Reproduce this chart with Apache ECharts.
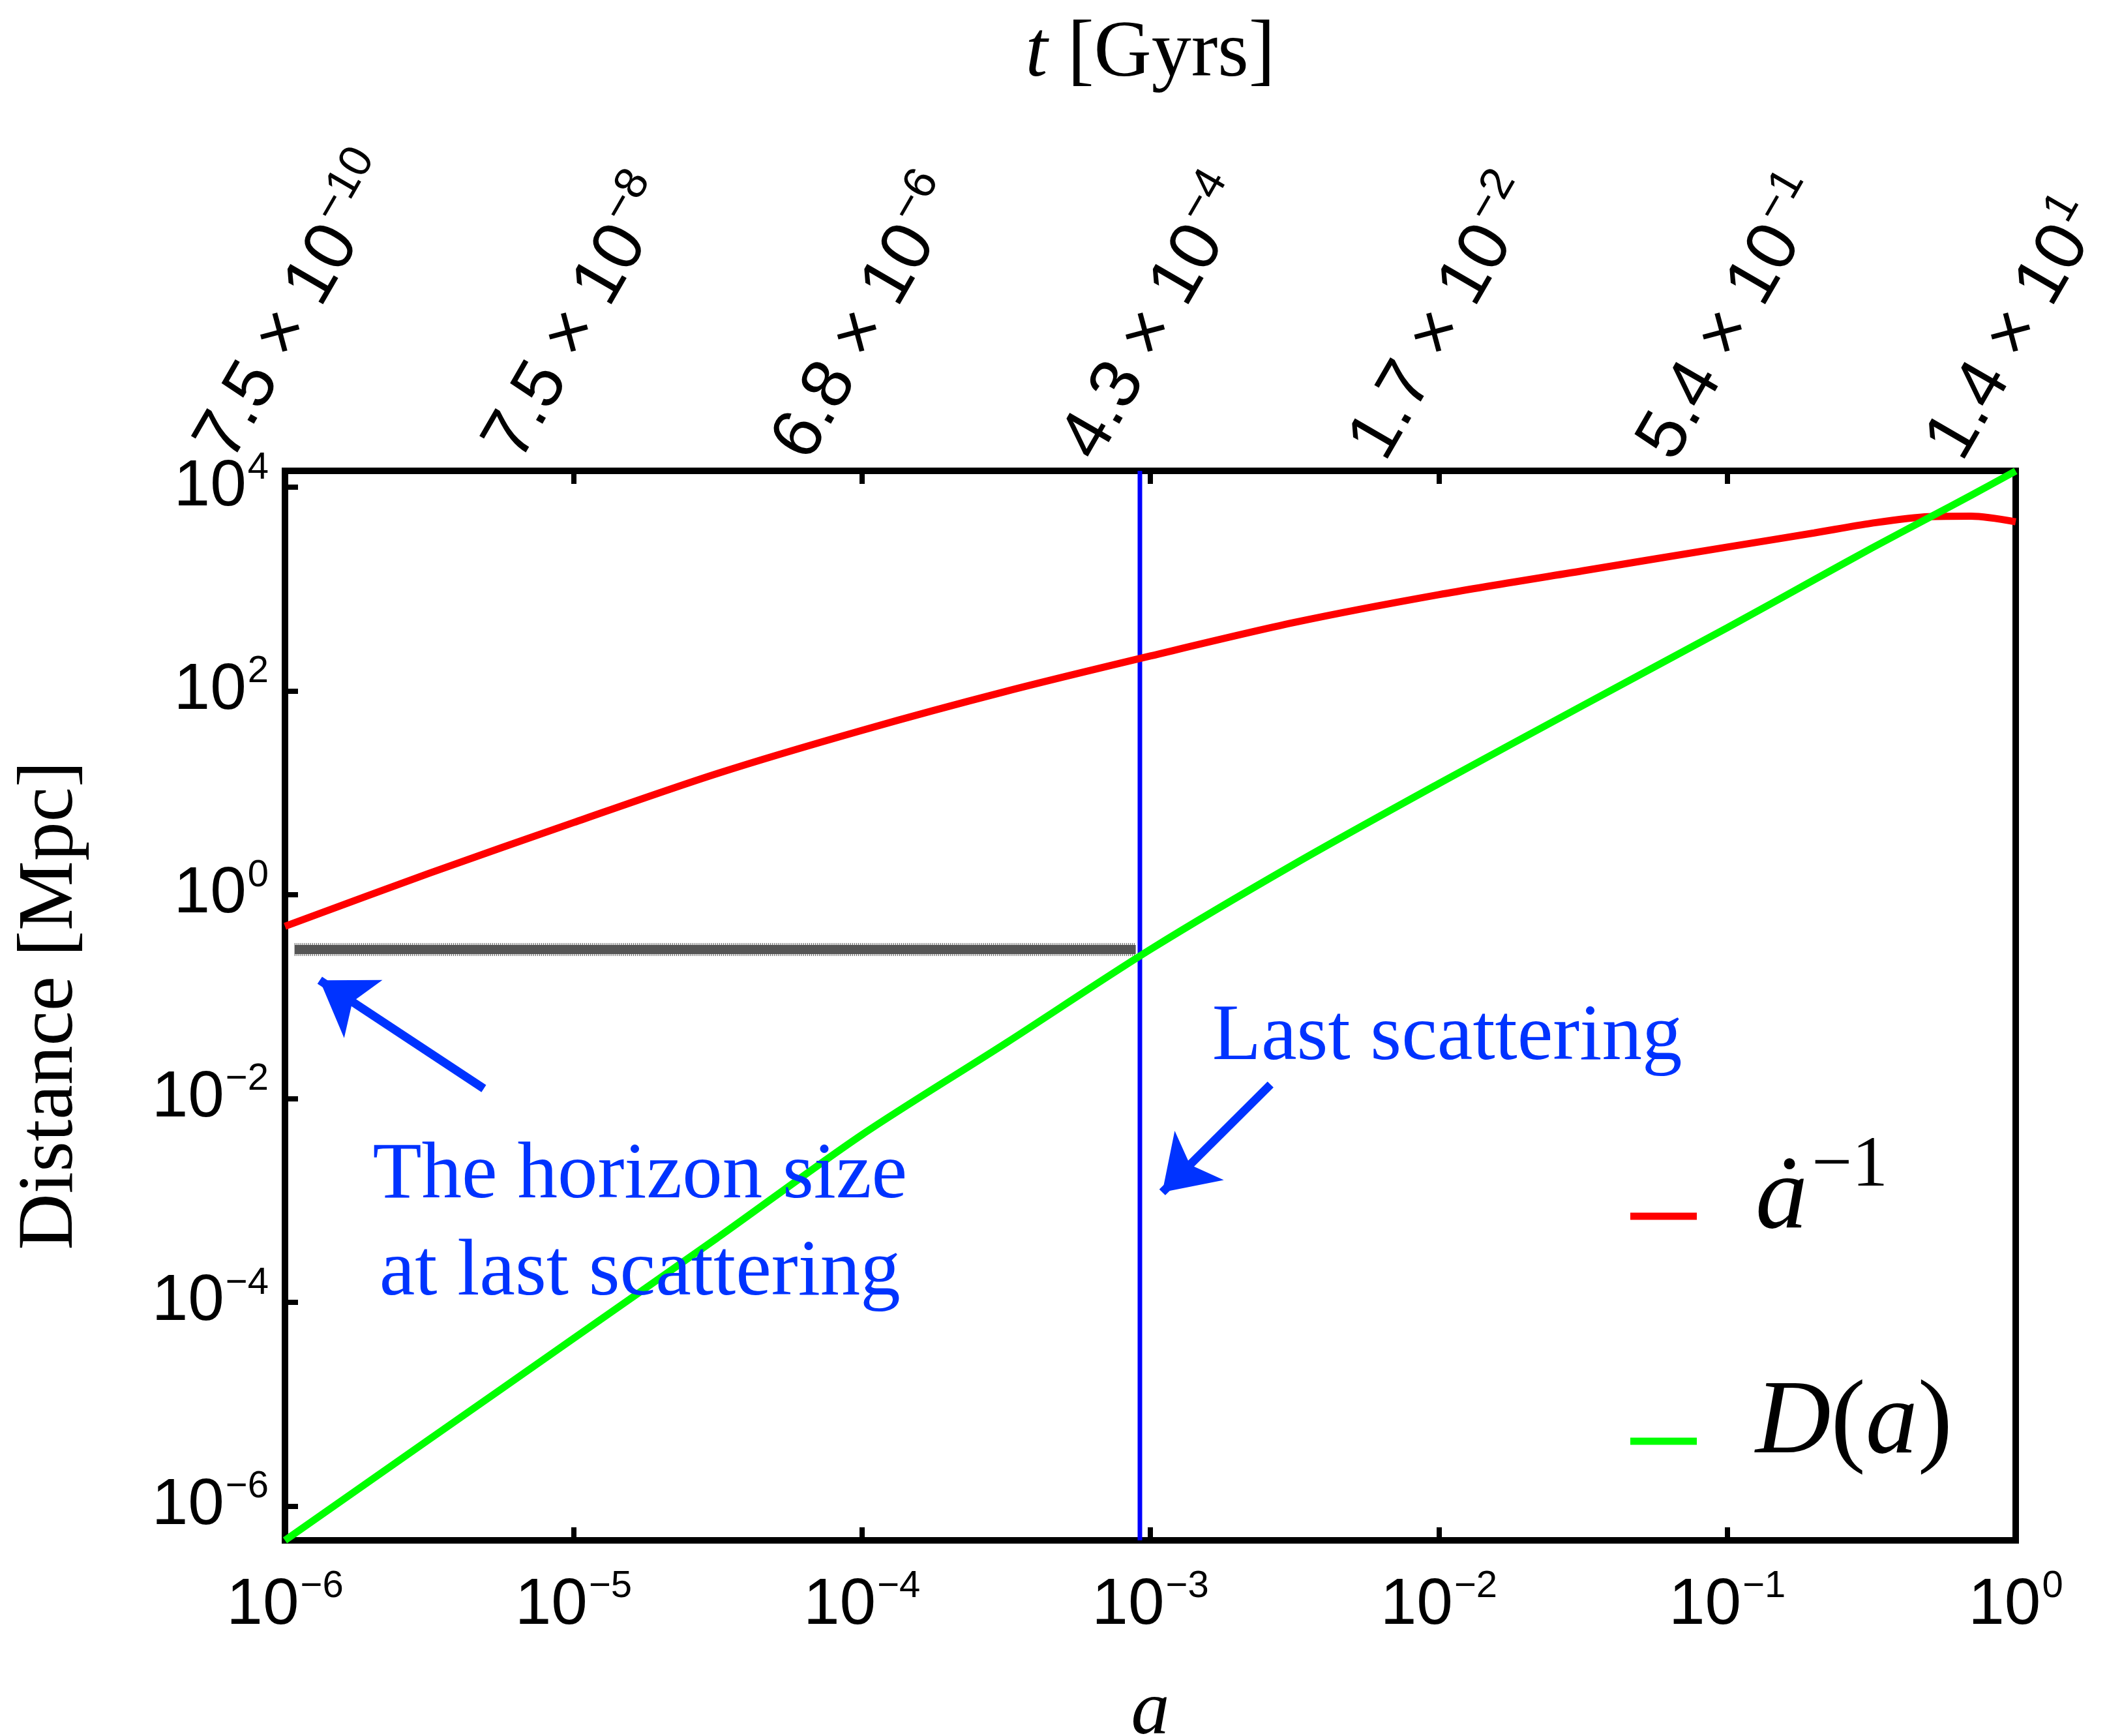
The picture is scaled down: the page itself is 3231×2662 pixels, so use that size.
<!DOCTYPE html>
<html>
<head>
<meta charset="utf-8">
<title>Horizon size</title>
<script src="https://cdn.jsdelivr.net/npm/echarts@6/dist/echarts.min.js"></script>
<style>
    * { margin: 0; padding: 0; }
    body { background: #fff; }
    #main { width: 3231px; height: 2662px; }
</style>
</head>
<body>
<div id="main"></div>
<script type="text/javascript">
// scale factor a (bottom axis)
var aVals = [1e-6, 3.16e-6, 1e-5, 3.16e-5, 1e-4, 3.16e-4, 1e-3, 3.16e-3, 1e-2, 3.16e-2, 0.1, 0.2, 0.316, 0.5, 0.7, 1];
// 1 / adot in Mpc
var adotInv = [0.49, 1.62, 5.1, 15.5, 41, 99, 220, 470, 880, 1510, 2580, 3550, 4420, 5130, 5190, 4570];
// horizon distance D(a) in Mpc
var horizonD = [4.6e-7, 4.5e-6, 4.4e-5, 4.3e-4, 4.4e-3, 0.035, 0.29, 2.0, 12.3, 72, 417, 1230, 2510, 5010, 8300, 14400];

var aLastScatter = 9.2e-4;
var lsBand = [[1.08e-6, 0.29], [8.9e-4, 0.29]];   // horizon size at last scattering
var yRange = [4.6e-7, 14450];

var xTicks = [1e-6, 1e-5, 1e-4, 1e-3, 1e-2, 1e-1, 1];
var yTicks = [1e-6, 1e-4, 1e-2, 1, 1e2, 1e4];
// top axis: age t in Gyrs at each a tick
var tMant = ['7.5', '7.5', '6.8', '4.3', '1.7', '5.4', '1.4'];
var tExp = ['−10', '−8', '−6', '−4', '−2', '−1', '1'];

// annotations (data coordinates)
var arrowHorizon = [[4.89e-6, 0.0125], [1.32e-6, 0.1445]];
var arrowLS = [[2.61e-3, 0.0137], [1.10e-3, 1.2e-3]];
var noteHorizon = [1.70e-5, 5.78e-4];
var noteLS = [0.01069, 0.039];

function zip(xs, ys) {
    return xs.map(function (x, i) { return [x, ys[i]]; });
}
function pow10Label(v) {
    var e = Math.round(Math.log10(v));
    return '{b|10}{s|' + (e < 0 ? '−' + (-e) : e) + '}';
}

// superscripts are lifted with bottom padding
var tickRich = {
    b: { fontFamily: 'Liberation Sans', fontSize: 100, lineHeight: 100, color: '#000' },
    s: { fontFamily: 'Liberation Sans', fontSize: 58, lineHeight: 100, padding: [0, 0, 58, 2], color: '#000' }
};
var topRich = {
    b: { fontFamily: 'Liberation Sans', fontSize: 108, lineHeight: 108, color: '#000' },
    s: { fontFamily: 'Liberation Sans', fontSize: 70, lineHeight: 108, padding: [0, 0, 66, 4], color: '#000' }
};
var serif = 'Liberation Serif';
var tickStyle = { inside: true, length: 20, lineStyle: { width: 8, color: '#000' } };

var myChart = echarts.init(document.getElementById('main'));
var option = {
    animation: false,
    backgroundColor: '#fff',
    grid: {
        left: 437, right: 140, top: 722, bottom: 300, outerBoundsMode: 'none', containLabel: false,
        show: true, borderColor: '#000', borderWidth: 10, backgroundColor: 'transparent'
    },
    legend: {
        data: ['adot', 'D'],
        orient: 'vertical', left: 2500, top: 1734, padding: 0, itemGap: 159,
        icon: 'rect', itemWidth: 102, itemHeight: 11, selectedMode: false,
        formatter: function (n) {
            return n === 'adot' ? '{i|ȧ}{s|−1}' : '{i|D}{r|(}{i|a}{r|)}';
        },
        textStyle: {
            padding: [0, 0, 50, 85],
            rich: {
                i: { fontFamily: serif, fontStyle: 'italic', fontSize: 160, lineHeight: 130, color: '#000' },
                r: { fontFamily: serif, fontSize: 160, lineHeight: 130, color: '#000' },
                s: { fontFamily: serif, fontSize: 110, lineHeight: 130, padding: [0, 0, 102, 6], color: '#000' }
            }
        }
    },
    xAxis: [{
        type: 'log', position: 'bottom', min: 1e-6, max: 1,
        name: '{i|a}', nameLocation: 'middle', nameGap: 200,
        nameTextStyle: { rich: { i: { fontFamily: serif, fontStyle: 'italic', fontSize: 118, lineHeight: 130, color: '#000' } } },
        axisLine: { show: false },
        axisTick: Object.assign({ customValues: xTicks }, tickStyle),
        axisLabel: { customValues: xTicks, margin: 50, formatter: pow10Label, rich: tickRich, showMinLabel: true, showMaxLabel: true },
        splitLine: { show: false }
    }, {
        type: 'log', position: 'top', min: 1e-6, max: 1,
        name: '{i|t}{r| [Gyrs]}', nameLocation: 'middle', nameGap: 573,
        nameTextStyle: { rich: {
            i: { fontFamily: serif, fontStyle: 'italic', fontSize: 122, lineHeight: 130, color: '#000' },
            r: { fontFamily: serif, fontSize: 122, lineHeight: 130, color: '#000' }
        } },
        axisLine: { show: false },
        axisTick: Object.assign({ customValues: xTicks }, tickStyle),
        axisLabel: {
            customValues: xTicks, rotate: -60, margin: -36, padding: [0, 0, 250, 0],
            align: 'left', verticalAlign: 'middle', showMinLabel: true, showMaxLabel: true,
            formatter: function (v) {
                var k = Math.round(Math.log10(v)) + 6;
                return '{b|' + tMant[k] + ' × 10}{s|' + tExp[k] + '}';
            },
            rich: topRich
        },
        splitLine: { show: false }
    }],
    yAxis: {
        type: 'log', min: yRange[0], max: yRange[1],
        name: 'Distance [Mpc]', nameLocation: 'middle', nameRotate: 90, nameGap: 294,
        nameTextStyle: { fontFamily: serif, fontSize: 120, lineHeight: 130, color: '#000' },
        axisLine: { show: false },
        axisTick: Object.assign({ customValues: yTicks }, tickStyle),
        axisLabel: { customValues: yTicks, margin: 25, formatter: pow10Label, rich: tickRich, showMinLabel: true, showMaxLabel: true },
        splitLine: { show: false }
    },
    series: [{
        name: 'band-edge', type: 'line', data: lsBand, symbol: 'none', silent: true,
        lineStyle: { color: '#555555', width: 20, type: [1, 2], cap: 'butt' }
    }, {
        name: 'band', type: 'line', data: lsBand, symbol: 'none', silent: true,
        lineStyle: { color: '#555555', width: 14, cap: 'butt' },
        markLine: {
            silent: true, symbol: ['none', 'arrow'], symbolSize: 80,
            label: { show: false },
            lineStyle: { color: '#0033ff', width: 13, type: 'solid' },
            emphasis: { disabled: true },
            data: [
                [{ coord: arrowHorizon[0] }, { coord: arrowHorizon[1] }],
                [{ coord: arrowLS[0] }, { coord: arrowLS[1] }]
            ]
        },
        markPoint: {
            silent: true, symbol: 'circle', symbolSize: 1,
            itemStyle: { color: 'rgba(0,0,0,0)' },
            label: { show: true, position: 'inside', color: '#0033ff', fontFamily: serif, fontSize: 123, lineHeight: 149 },
            data: [
                { coord: noteHorizon, label: { formatter: 'The horizon size\nat last scattering' } },
                { coord: noteLS, label: { formatter: 'Last scattering' } }
            ]
        }
    }, {
        name: 'ls', type: 'line', symbol: 'none', silent: true,
        data: [[aLastScatter, yRange[0]], [aLastScatter, yRange[1]]],
        lineStyle: { color: '#0000ff', width: 7 }
    }, {
        name: 'adot', type: 'line', data: zip(aVals, adotInv), symbol: 'none', smooth: 0.3,
        lineStyle: { color: '#ff0000', width: 11 }, itemStyle: { color: '#ff0000' }
    }, {
        name: 'D', type: 'line', data: zip(aVals, horizonD), symbol: 'none', smooth: 0.3,
        lineStyle: { color: '#00ff00', width: 11 }, itemStyle: { color: '#00ff00' }
    }]
};
myChart.setOption(option);
</script>
</body>
</html>
